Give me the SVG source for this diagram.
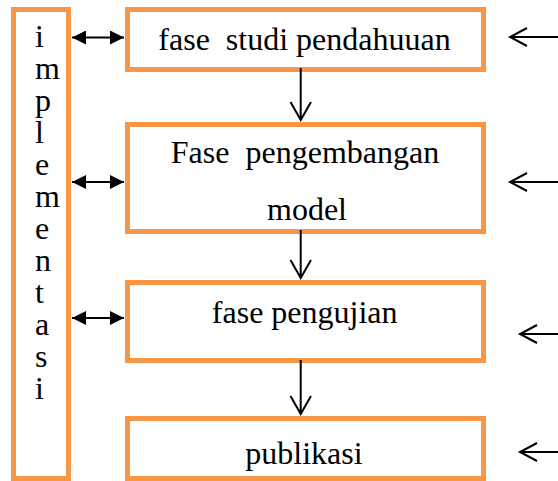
<svg xmlns="http://www.w3.org/2000/svg" width="558" height="481" viewBox="0 0 558 481">
<style>
.box{fill:#fff;stroke:#F79646;stroke-width:5}
.t{font-family:"Liberation Serif","Times New Roman",serif;font-size:32px;fill:#000;text-anchor:middle}
.v{font-family:"Liberation Serif","Times New Roman",serif;font-size:32px;fill:#000}
.ln{stroke:#000;stroke-width:2;fill:none}
.dbl{stroke:#000;stroke-width:2;fill:none;marker-start:url(#tri);marker-end:url(#tri)}
</style>
<defs>
<marker id="tri" viewBox="0 0 10 10" refX="10" refY="5" markerWidth="8" markerHeight="7" markerUnits="strokeWidth" orient="auto-start-reverse">
<path d="M0,0 L10,5 L0,10 Z" fill="#000"/>
</marker>
</defs>
<g id="implementasi">
<rect class="box" x="13.5" y="9.5" width="55" height="469"/>
<text class="v" x="35" y="47">i</text>
<text class="v" x="35" y="79">m</text>
<text class="v" x="35" y="111">p</text>
<text class="v" x="35" y="143">l</text>
<text class="v" x="35" y="175">e</text>
<text class="v" x="35" y="207">m</text>
<text class="v" x="35" y="239">e</text>
<text class="v" x="35" y="271">n</text>
<text class="v" x="35" y="303">t</text>
<text class="v" x="35" y="335">a</text>
<text class="v" x="35" y="367">s</text>
<text class="v" x="35" y="399">i</text>
</g>
<g id="studi">
<rect class="box" x="127.5" y="9.5" width="356" height="60"/>
<text class="t" x="304.5" y="50" xml:space="preserve">fase  studi pendahuuan</text>
</g>
<g id="pengembangan">
<rect class="box" x="127.5" y="124.5" width="356" height="107"/>
<text class="t" x="305" y="163" xml:space="preserve">Fase  pengembangan</text>
<text class="t" x="307" y="220">model</text>
</g>
<g id="pengujian">
<rect class="box" x="127.5" y="282.5" width="356" height="78"/>
<text class="t" x="304.7" y="323">fase pengujian</text>
</g>
<g id="publikasi">
<rect class="box" x="127.5" y="418.5" width="356" height="60"/>
<text class="t" x="304" y="464">publikasi</text>
</g>
<g id="connectors">
<line class="dbl" x1="72" y1="37.5" x2="124" y2="37.5"/>
<line class="dbl" x1="72" y1="182" x2="124" y2="182"/>
<line class="dbl" x1="72" y1="318" x2="124" y2="318"/>
<path class="ln" d="M300.7,68 V120 M290.5,102 L300.7,120 L311,102"/>
<path class="ln" d="M300.7,230 V278 M290.5,260 L300.7,278 L311,260"/>
<path class="ln" d="M300.7,360 V414 M290.5,396 L300.7,414 L311,396"/>
<path class="ln" d="M558,37 H510 M527,28 L510,37 L527,46"/>
<path class="ln" d="M558,182 H510 M527,173 L510,182 L527,191"/>
<path class="ln" d="M558,334 H520 M537,325 L520,334 L537,343"/>
<path class="ln" d="M558,452 H520 M537,443 L520,452 L537,461"/>
</g>
</svg>
